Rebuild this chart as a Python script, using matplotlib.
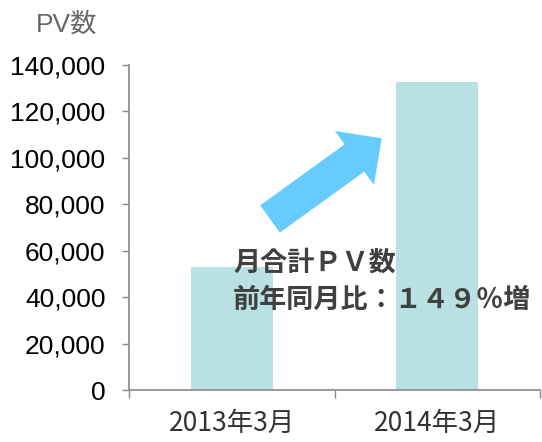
import matplotlib
matplotlib.use("Agg")
import matplotlib.pyplot as plt
from matplotlib.patches import FancyArrow
from matplotlib.ticker import FuncFormatter, FixedLocator

# data
months = ["2013年3月", "2014年3月"]
pv_totals = [53200, 132500]
y_ticks = [0, 20000, 40000, 60000, 80000, 100000, 120000, 140000]

bar_color = "#b9e0e3"
axis_gray = "#888888"
arrow_blue = "#66ccff"
cjk = ["Noto Sans CJK JP", "DejaVu Sans"]

fig = plt.figure(figsize=(5.42, 4.42), dpi=100)
ax = fig.add_axes([129/542, 1 - 390/442, 411/542, 325/442])

pos = list(range(len(months)))
ax.bar(pos, pv_totals, width=0.4, color=bar_color, zorder=2)

ax.set_xlim(-0.5, len(months) - 0.5)
ax.set_ylim(0, 140000)
ax.set_yticks(y_ticks)
ax.yaxis.set_major_formatter(FuncFormatter(lambda v, p: f"{int(v):,}"))
ax.tick_params(axis="y", direction="out", length=5, width=1, color=axis_gray,
               labelsize=19, pad=12, labelcolor="black")
for t in ax.get_yticklabels():
    t.set_family(["Liberation Sans", "DejaVu Sans"])

ax.set_xticks(pos)
ax.set_xticklabels(months, family=cjk, fontsize=19, color="#333333")
ax.tick_params(axis="x", which="major", length=0, pad=14)
ax.xaxis.set_minor_locator(FixedLocator([-0.5, 0.5, 1.5]))
ax.tick_params(axis="x", which="minor", direction="out", length=6, width=1, color=axis_gray)

for s in ["top", "right"]:
    ax.spines[s].set_visible(False)
for s in ["left", "bottom"]:
    ax.spines[s].set_color(axis_gray)
    ax.spines[s].set_linewidth(1.2)

fig.text(36/542, 1 - 25/442, "PV数", family=["Liberation Sans", "Noto Sans CJK JP"],
         fontsize=19, color="#666666", va="center", ha="left")

# growth arrow, in figure inches
arrow = FancyArrow(2.70, 2.23, 1.117, 0.807, width=0.336, head_width=0.666,
                   head_length=0.336, length_includes_head=True,
                   color=arrow_blue, linewidth=0, transform=fig.dpi_scale_trans)
fig.patches.append(arrow)

fig.text(233/542, 1 - 263/442, "月合計ＰＶ数", family=cjk,
         fontsize=19.5, fontweight="bold", color="#404040", va="center", ha="left")
fig.text(233/542, 1 - 300/442, "前年同月比：１４９％増", family=cjk,
         fontsize=19.5, fontweight="bold", color="#404040", va="center", ha="left")

fig.savefig("out.png", dpi=100)
